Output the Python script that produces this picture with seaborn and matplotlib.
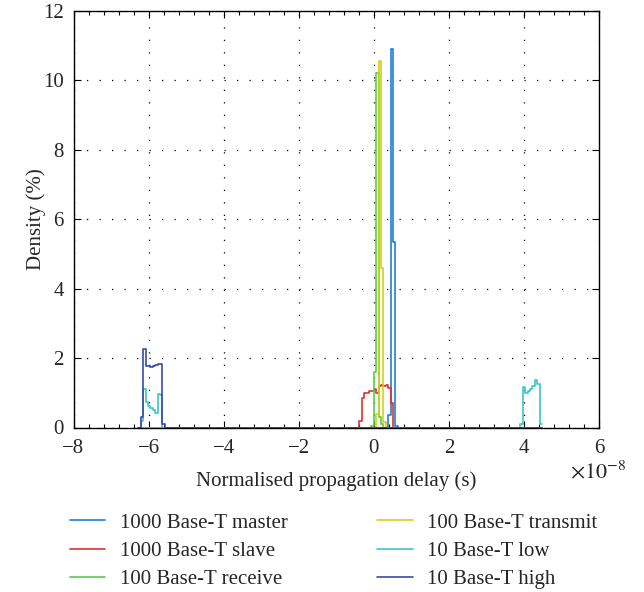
import numpy as np
import pandas as pd
import matplotlib
matplotlib.use("Agg")
import matplotlib.pyplot as plt
import seaborn as sns
from matplotlib.lines import Line2D
from matplotlib.ticker import MultipleLocator

# ---------------- data (delay in units of 1e-8 s, density in %) ----------------
BIN_WIDTH = 0.064          # bin width (x 1e-8 s)
FIRST_BIN = -98            # index of first histogram bin
LAST_BIN = 70              # index after last histogram bin

series_names = ["1000 Base-T master", "1000 Base-T slave", "100 Base-T receive",
                "100 Base-T transmit", "10 Base-T low", "10 Base-T high"]
series_colors = ["#1f7fd0", "#e0302c", "#5cc850", "#cfd21e", "#40c4cc", "#3a4aac"]

# (start bin index, densities of consecutive bins)
master_blocks = [(6, [0.35, 10.9, 5.35, 0.05])]
slave_blocks = [(-6, [0.2, 0.85, 1.0, 1.0, 1.05, 1.05, 1.12, 1.0, 1.2, 1.22, 1.2, 1.22, 1.15, 0.7])]
receive_blocks = [(-1, [0.05, 1.6, 10.2, 0.3, 0.1])]
transmit_blocks = [(1, [0.4, 10.56, 4.6, 0.15])]
low_blocks = [(-97, [0.2, 1.1, 0.74, 0.62, 0.57, 0.5, 0.41, 0.97, 0.95]),
              (61, [0.1, 1.18, 1.0, 1.05, 1.12, 1.2, 1.38, 1.24, 0.1])]
high_blocks = [(-97, [0.3, 2.26, 1.77, 1.77, 1.73, 1.78, 1.81, 1.84, 1.84, 0.1])]

all_blocks = [master_blocks, slave_blocks, receive_blocks,
              transmit_blocks, low_blocks, high_blocks]

x_ticks = [-8, -6, -4, -2, 0, 2, 4, 6]
y_ticks = [0, 2, 4, 6, 8, 10, 12]

# ---------------- build histogram tables ----------------
bin_idx = np.arange(FIRST_BIN, LAST_BIN + 1)
edges = bin_idx * BIN_WIDTH
centers = edges[:-1] + BIN_WIDTH / 2

frames = []
for name, blocks in zip(series_names, all_blocks):
    dens = np.zeros(len(centers))
    for start, vals in blocks:
        for i, v in enumerate(vals):
            dens[start + i - FIRST_BIN] = v
    frames.append(pd.DataFrame({"delay": centers, "density": dens, "series": name}))
df = pd.concat(frames, ignore_index=True)

# ---------------- plot ----------------
sns.set_style("ticks")
plt.rcParams["font.family"] = ["Liberation Serif", "DejaVu Serif"]
plt.rcParams["mathtext.fontset"] = "stix"

fig = plt.figure(figsize=(6.44, 5.92), dpi=100)
ax = fig.add_axes([73.5 / 644, 1 - 427.5 / 592, (599 - 73.5) / 644, (427.5 - 11) / 592])

for name, col in zip(series_names, series_colors):
    sub = df[df["series"] == name]
    sns.histplot(x=sub["delay"].to_numpy(), weights=sub["density"].to_numpy(),
                 bins=edges.tolist(), element="step", fill=False, color=col,
                 linewidth=1.2, ax=ax)

ax.set_xlim(-8, 6)
ax.set_ylim(0, 12)
ax.set_xticks(x_ticks)
ax.set_yticks(y_ticks)
ax.xaxis.set_minor_locator(MultipleLocator(0.4))
ax.set_xticklabels([f"{t}".replace("-", "\u2212") for t in x_ticks])
ax.set_yticklabels([str(t) for t in y_ticks])
ax.tick_params(which="both", direction="in", top=True, right=True,
               labelsize=15, color="black", width=0.8)
ax.tick_params(which="major", length=5)
ax.tick_params(axis="x", which="major", pad=8)
ax.tick_params(axis="y", which="major", pad=7)
ax.tick_params(which="minor", length=3)
ax.grid(True, which="major", color="black", linestyle=(0, (1, 9)), linewidth=0.9)
for s in ax.spines.values():
    s.set_visible(True)
    s.set_color("black")
    s.set_linewidth(1.0)

ax.set_xlabel("Normalised propagation delay (s)", fontsize=15, labelpad=10)
ax.set_ylabel("Density (%)", fontsize=15, labelpad=-2)
fig.text(626 / 644, 1 - 461 / 592, r"$\times10^{-8}$", fontsize=16,
         ha="right", va="top")

handles = [Line2D([0], [0], color=c, lw=1.2) for c in series_colors]
fig.legend(handles, series_names, ncol=2, loc="upper left",
           bbox_to_anchor=(70 / 644, 1 - 513 / 592), frameon=False,
           fontsize=15, handlelength=1.7, handletextpad=0.7, borderpad=0,
           borderaxespad=0, columnspacing=4.3, labelspacing=0.42)

fig.savefig("out.png", dpi=100)
